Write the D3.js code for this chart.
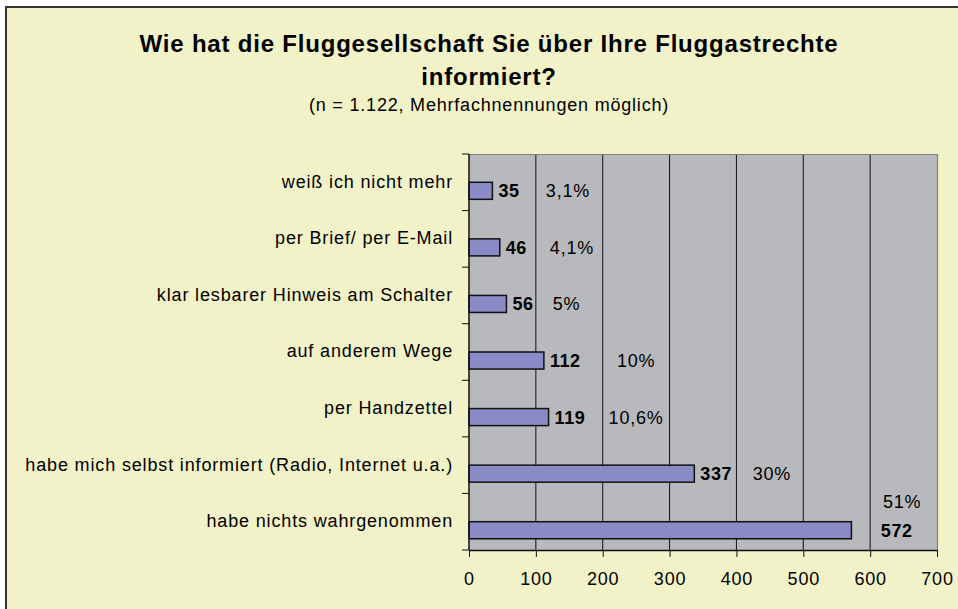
<!DOCTYPE html>
<html><head><meta charset="utf-8">
<script src="https://cdn.jsdelivr.net/npm/d3@7/dist/d3.min.js"></script>
<style>
body{margin:0;background:#fff}
svg{display:block}
text{font-family:"Liberation Sans",Arial,sans-serif;fill:#000}
</style>
</head><body>
<svg id="c" width="958" height="609"></svg>
<script>
// ---- data ----
const categories = [
  "weiß ich nicht mehr",
  "per Brief/ per E-Mail",
  "klar lesbarer Hinweis am Schalter",
  "auf anderem Wege",
  "per Handzettel",
  "habe mich selbst informiert (Radio, Internet u.a.)",
  "habe nichts wahrgenommen"
];
const counts = [35, 46, 56, 112, 119, 337, 572];
const percentLabels = ["3,1%", "4,1%", "5%", "10%", "10,6%", "30%", "51%"];
const xTicks = [0, 100, 200, 300, 400, 500, 600, 700];
const titleLines = ["Wie hat die Fluggesellschaft Sie über Ihre Fluggastrechte", "informiert?"];
const subtitle = "(n = 1.122, Mehrfachnennungen möglich)";

// ---- layout (not data) ----
const layout = {
  plot: {left: 469, right: 937, top: 154, bottom: 550},
  // centre of percentage labels, in axis units
  pctAnchor: [148, 154, 146, 250, 250, 453, 648],
  pctDy: [0, 0, 0, 0, 0, 0, -29],
  countAnchorOverride: {6: 616}
};
const C = {bg: "#f2f2c8", plot: "#b8b9bd", bar: "#8a8ac6"};

const svg = d3.select("#c");
const P = layout.plot;

// outer frame
svg.append("rect").attr("x", 6).attr("y", 7).attr("width", 980).attr("height", 640)
  .attr("fill", C.bg).attr("stroke", "#333").attr("stroke-width", 2);

const x = d3.scaleLinear().domain([0, 700]).range([P.left, P.right]);
const y = d3.scaleBand().domain(categories).range([P.top, P.bottom]).paddingInner(0).paddingOuter(0);
const ySub = d3.scaleBand().domain(["pct", "count"]).range([0, y.bandwidth()]).paddingInner(0).paddingOuter(0.66);

// plot area
svg.append("rect").attr("x", P.left).attr("y", P.top).attr("width", P.right - P.left)
  .attr("height", P.bottom - P.top).attr("fill", C.plot);

// grid lines
svg.append("g").selectAll("line").data(xTicks.filter(t => t > 0 && t < 700)).join("line")
  .attr("x1", d => x(d)).attr("x2", d => x(d)).attr("y1", P.top).attr("y2", P.bottom)
  .attr("stroke", "#111").attr("stroke-width", 1);

// plot border top/right
svg.append("path").attr("d", `M${P.left},${P.top + 0.5}H${P.right + 0.5}V${P.bottom}`)
  .attr("fill", "none").attr("stroke", "#808080").attr("stroke-width", 1.2);

// bars
svg.append("g").selectAll("rect").data(counts).join("rect")
  .attr("x", x(0))
  .attr("y", (d, i) => y(categories[i]) + ySub("count"))
  .attr("width", d => x(d) - x(0))
  .attr("height", ySub.bandwidth())
  .attr("fill", C.bar).attr("stroke", "#111").attr("stroke-width", 1.5);

// count labels
svg.append("g").selectAll("text").data(counts).join("text")
  .attr("x", (d, i) => layout.countAnchorOverride[i] !== undefined ? x(layout.countAnchorOverride[i]) : x(d) + 6)
  .attr("y", (d, i) => y(categories[i]) + ySub("count") + ySub.bandwidth() / 2)
  .attr("dy", "0.36em")
  .attr("font-size", 18).attr("font-weight", "bold").attr("letter-spacing", 0.6)
  .text(d => d);

// percentage labels
svg.append("g").selectAll("text").data(percentLabels).join("text")
  .attr("x", (d, i) => x(layout.pctAnchor[i]))
  .attr("y", (d, i) => y(categories[i]) + ySub("count") + ySub.bandwidth() / 2 + layout.pctDy[i])
  .attr("dy", "0.36em").attr("text-anchor", "middle")
  .attr("font-size", 18).attr("letter-spacing", 0.8)
  .text(d => d);

// left axis line + ticks at band boundaries
svg.append("line").attr("x1", P.left).attr("x2", P.left).attr("y1", P.top).attr("y2", P.bottom)
  .attr("stroke", "#111").attr("stroke-width", 1.5);
const bounds = categories.map(c => y(c)).concat([P.bottom]);
svg.append("g").selectAll("line").data(bounds).join("line")
  .attr("x1", P.left - 7).attr("x2", P.left).attr("y1", d => d).attr("y2", d => d)
  .attr("stroke", "#111").attr("stroke-width", 1);

// category labels
svg.append("g").selectAll("text").data(categories).join("text")
  .attr("x", 453).attr("y", d => y(d) + y.bandwidth() / 2 - 1)
  .attr("dy", "0.36em").attr("text-anchor", "end")
  .attr("font-size", 18).attr("letter-spacing", 0.85)
  .text(d => d);

// bottom axis
const xAxis = d3.axisBottom(x).tickValues(xTicks).tickSize(7).tickSizeOuter(0).tickPadding(15);
const gx = svg.append("g").attr("transform", `translate(0,${P.bottom})`).call(xAxis);
gx.select(".domain").attr("stroke", "#111").attr("stroke-width", 1.5);
gx.selectAll(".tick line").attr("stroke", "#111");
gx.selectAll(".tick text").attr("font-size", 18).attr("letter-spacing", 0.8)
  .attr("font-family", '"Liberation Sans",Arial,sans-serif').attr("fill", "#000");

// title
svg.append("g").selectAll("text").data(titleLines).join("text")
  .attr("x", 489).attr("y", (d, i) => 52 + i * 33).attr("text-anchor", "middle")
  .attr("font-size", 24).attr("font-weight", "bold").attr("letter-spacing", 0.8)
  .text(d => d);
svg.append("text").attr("x", 489).attr("y", 111).attr("text-anchor", "middle")
  .attr("font-size", 18).attr("letter-spacing", 0.8).text(subtitle);
</script>
</body></html>
